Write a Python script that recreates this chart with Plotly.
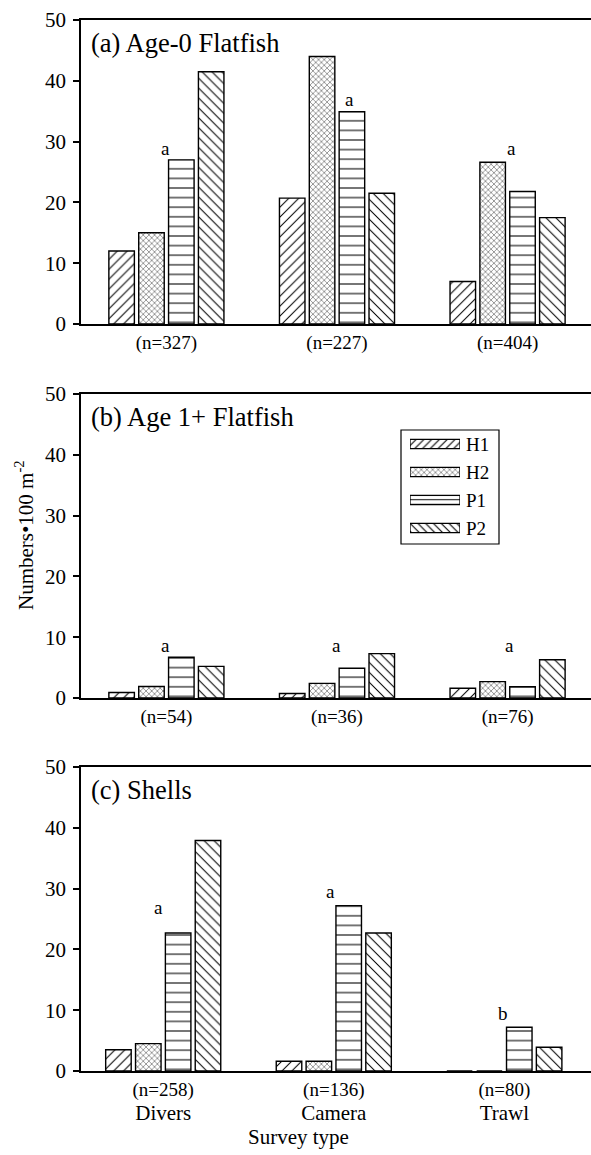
import plotly.graph_objects as go

# ---------------- data ----------------
groups = [0, 1, 2]
series = ["H1", "H2", "P1", "P2"]
survey_types = ["Divers", "Camera", "Trawl"]
y_ticks = [0, 10, 20, 30, 40, 50]

n_age0 = ["(n=327)", "(n=227)", "(n=404)"]
n_age1 = ["(n=54)", "(n=36)", "(n=76)"]
n_shell = ["(n=258)", "(n=136)", "(n=80)"]

age0_H1 = [12.0, 20.7, 7.0]
age0_H2 = [15.0, 44.0, 26.6]
age0_P1 = [27.0, 34.9, 21.8]
age0_P2 = [41.5, 21.5, 17.5]

age1_H1 = [0.9, 0.75, 1.6]
age1_H2 = [1.9, 2.4, 2.7]
age1_P1 = [6.7, 4.9, 1.85]
age1_P2 = [5.2, 7.3, 6.3]

shell_H1 = [3.5, 1.6, 0]
shell_H2 = [4.5, 1.6, 0]
shell_P1 = [22.7, 27.2, 7.2]
shell_P2 = [37.9, 22.7, 3.9]

age0_letters = ["a", "a", "a"]
age1_letters = ["a", "a", "a"]
shell_letters = ["a", "a", "b"]
age0_letter_y = [28.8, 36.9, 28.8]
age1_letter_y = [8.7, 8.7, 8.7]
shell_letter_y = [26.9, 29.5, 9.4]

panel_titles = ["(a) Age-0 Flatfish", "(b) Age 1+ Flatfish", "(c) Shells"]

# ---------------- styles ----------------
FONT = "Liberation Serif"
patterns = {
    "H1": dict(shape="/", size=7, solidity=0.15),
    "H2": dict(shape="x", size=4, solidity=0.19),
    "P1": dict(shape="-", size=9.6, solidity=0.11),
    "P2": dict(shape="\\", size=7, solidity=0.15),
}
legend_patterns = {
    "H1": dict(shape="/", size=5.5, solidity=0.2),
    "H2": dict(shape="x", size=4, solidity=0.19),
    "P1": dict(shape="-", size=4.5, solidity=0.22),
    "P2": dict(shape="\\", size=5.5, solidity=0.2),
}
letter_dx = [
    [-0.006, 0.072, 0.023],
    [-0.006, 0.0, 0.013],
    [-0.029, -0.018, -0.007],
]

panels = [
    dict(vals=[age0_H1, age0_H2, age0_P1, age0_P2], n=n_age0,
         letters=age0_letters, ly=age0_letter_y),
    dict(vals=[age1_H1, age1_H2, age1_P1, age1_P2], n=n_age1,
         letters=age1_letters, ly=age1_letter_y),
    dict(vals=[shell_H1, shell_H2, shell_P1, shell_P2], n=n_shell,
         letters=shell_letters, ly=shell_letter_y),
]

W, H = 591, 1155
ML, MR, MT, MB = 81, 0, 20, 84
PW = W - ML - MR
PH = H - MT - MB
bottom_px = H - MB


def py(px):
    return (bottom_px - px) / PH


def pxx(px):
    return (px - ML) / PW


y_domains = [[py(324), py(20)], [py(698), py(394)], [py(1071), py(767)]]
x_ranges = [[-0.5006, 2.489], [-0.5006, 2.489], [-0.482, 2.508]]

fig = go.Figure()
annotations = []
for i, p in enumerate(panels):
    xa = "x" if i == 0 else f"x{i+1}"
    ya = "y" if i == 0 else f"y{i+1}"
    for s, vals in zip(series, p["vals"]):
        fig.add_trace(go.Bar(
            x=groups, y=vals, name=s, xaxis=xa, yaxis=ya,
            showlegend=False,
            marker=dict(color="white",
                        line=dict(color="black", width=1.4),
                        pattern=dict(fgcolor="black", bgcolor="white",
                                     fillmode="replace", **patterns[s])),
        ))
    for g, (lt, ly) in enumerate(zip(p["letters"], p["ly"])):
        annotations.append(dict(
            x=groups[g] + letter_dx[i][g], y=ly, xref=xa, yref=ya,
            text=lt, showarrow=False, xanchor="center", yanchor="middle",
            font=dict(family=FONT, size=19, color="black")))
    annotations.append(dict(
        x=pxx(89), y=0.925, xref="paper",
        yref=f"{ya} domain", text=panel_titles[i], showarrow=False,
        xanchor="left", yanchor="middle",
        font=dict(family=FONT, size=26.5, color="black")))

# legend drawn as an inset axis: one swatch per series
for s in series:
    fig.add_trace(go.Bar(
        y=[s], x=[1], orientation="h", xaxis="x4", yaxis="y4",
        width=0.33, offset=-0.165, showlegend=False, name=s,
        marker=dict(color="white",
                    line=dict(color="black", width=1.3),
                    pattern=dict(fgcolor="black", bgcolor="white",
                                 fillmode="replace", **legend_patterns[s])),
    ))

# y axis title
annotations.append(dict(
    x=pxx(24), y=py(535), xref="paper", yref="paper",
    text="Numbers\u2022100 m<sup>-2</sup>", textangle=-90, showarrow=False,
    xanchor="center", yanchor="middle",
    font=dict(family=FONT, size=21, color="black")))
# x axis title
annotations.append(dict(
    x=pxx(298), y=py(1137), xref="paper", yref="paper",
    text="Survey type", showarrow=False, xanchor="center", yanchor="middle",
    font=dict(family=FONT, size=21, color="black")))

layout = dict(
    width=W, height=H,
    margin=dict(l=ML, r=MR, t=MT, b=MB),
    paper_bgcolor="white", plot_bgcolor="white",
    barmode="group", bargap=0.3, bargroupgap=0.145,
    font=dict(family=FONT, color="black"),
    annotations=annotations,
    showlegend=False,
    shapes=[dict(type="rect", xref="paper", yref="paper",
                 x0=pxx(401), x1=pxx(499), y0=py(544), y1=py(430),
                 line=dict(color="black", width=1.2), fillcolor="rgba(0,0,0,0)",
                 layer="above")],
)

for i, p in enumerate(panels):
    xk = "xaxis" if i == 0 else f"xaxis{i+1}"
    yk = "yaxis" if i == 0 else f"yaxis{i+1}"
    ya = "y" if i == 0 else f"y{i+1}"
    xa = "x" if i == 0 else f"x{i+1}"
    if i == 2:
        ticktext = [f"{n}<br><span style='font-size:21px'>{s}</span>"
                    for n, s in zip(p["n"], survey_types)]
    else:
        ticktext = p["n"]
    layout[xk] = dict(
        domain=[0, 1], anchor=ya, range=x_ranges[i],
        tickmode="array", tickvals=groups, ticktext=ticktext,
        ticks="", ticklen=0, showline=True, linecolor="black", linewidth=1.5,
        mirror=True, showgrid=False, zeroline=False,
        tickfont=dict(family=FONT, size=19, color="black"),
        ticklabelstandoff=0, fixedrange=True,
    )
    layout[yk] = dict(
        domain=y_domains[i], anchor=xa, range=[0, 50],
        tickmode="array", tickvals=y_ticks,
        ticks="outside", ticklen=6, tickwidth=1.5, tickcolor="black",
        showline=True, linecolor="black", linewidth=1.5,
        showgrid=False, zeroline=False,
        tickfont=dict(family=FONT, size=21, color="black"),
        ticklabelstandoff=3, fixedrange=True,
    )

layout["xaxis4"] = dict(
    domain=[pxx(410), pxx(460)], anchor="y4", range=[0, 1],
    visible=False, fixedrange=True,
)
layout["yaxis4"] = dict(
    domain=[py(542), py(430)], anchor="x4", type="category",
    categoryorder="array", categoryarray=series, range=[3.5, -0.5],
    side="right", showline=False, showgrid=False, zeroline=False,
    ticks="", tickfont=dict(family=FONT, size=19, color="black"),
    ticklabelstandoff=5, fixedrange=True,
)

fig.update_layout(**layout)
fig.write_html(
    "out.html",
    config={"displayModeBar": False},
    post_script="document.body.style.margin='0px';document.body.style.overflow='hidden';",
)
